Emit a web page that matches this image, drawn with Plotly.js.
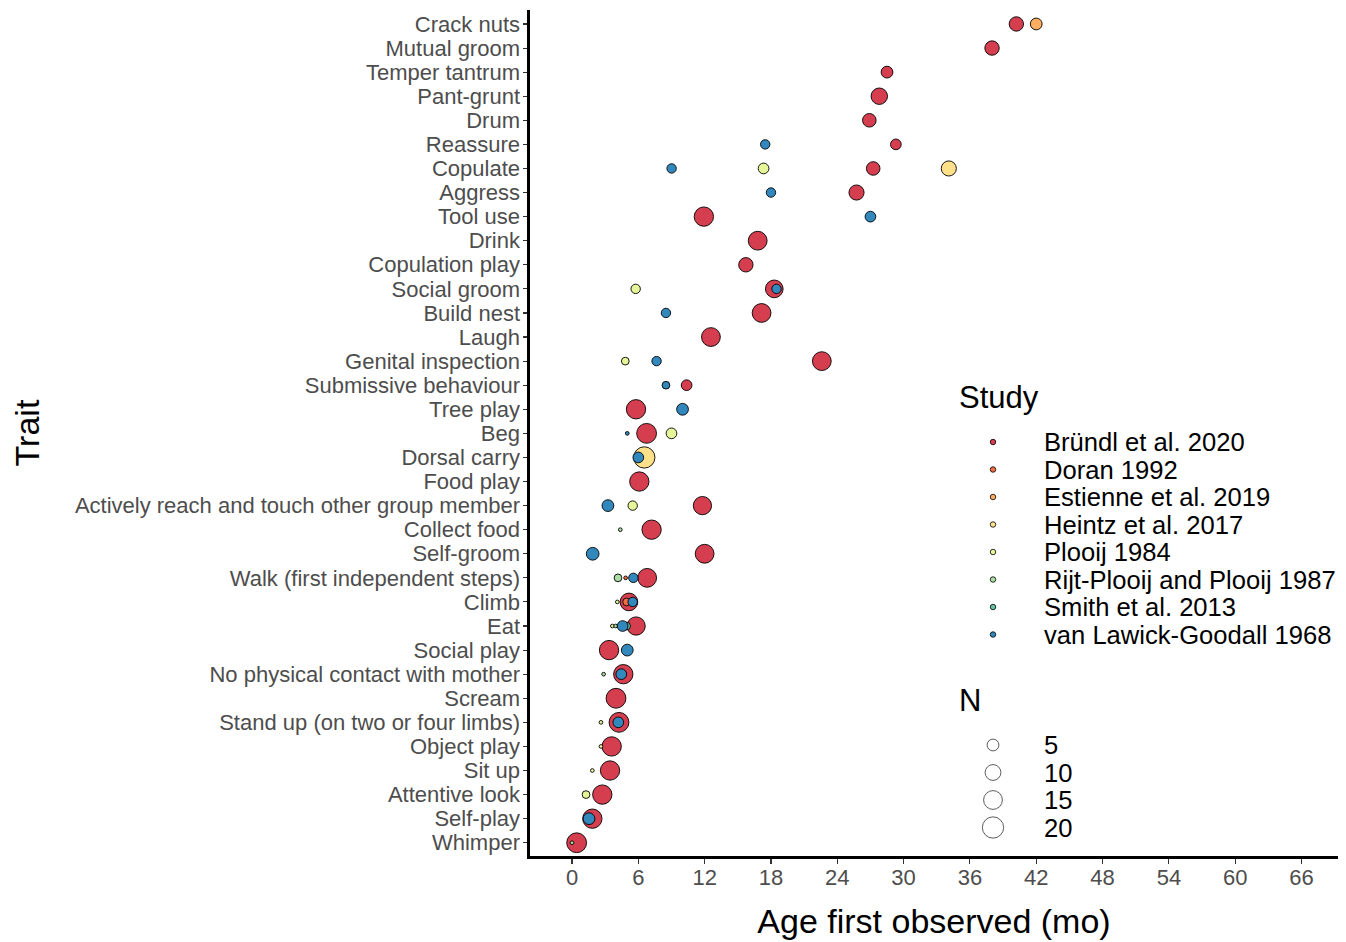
<!DOCTYPE html>
<html>
<head>
<meta charset="utf-8">
<script src="https://cdn.plot.ly/plotly-3.0.1.min.js"></script>
<style>
  html, body { margin: 0; padding: 0; background: #ffffff; }
  #chart { width: 1346px; height: 942px; }
</style>
</head>
<body>
<div id="chart"></div>
<script>
// ---------------- DATA ----------------
// Traits, bottom to top
const traits = [
  "Whimper", "Self-play", "Attentive look", "Sit up", "Object play",
  "Stand up (on two or four limbs)", "Scream", "No physical contact with mother",
  "Social play", "Eat", "Climb", "Walk (first independent steps)", "Self-groom",
  "Collect food", "Actively reach and touch other group member", "Food play",
  "Dorsal carry", "Beg", "Tree play", "Submissive behaviour", "Genital inspection",
  "Laugh", "Build nest", "Social groom", "Copulation play", "Drink", "Tool use",
  "Aggress", "Copulate", "Reassure", "Drum", "Pant-grunt", "Temper tantrum",
  "Mutual groom", "Crack nuts"
];

const studies = [
  "Bründl et al. 2020", "Doran 1992", "Estienne et al. 2019", "Heintz et al. 2017",
  "Plooij 1984", "Rijt-Plooij and Plooij 1987", "Smith et al. 2013", "van Lawick-Goodall 1968"
];

// Bründl et al. 2020
const bruendlTrait = [
  "Crack nuts", "Mutual groom", "Temper tantrum", "Pant-grunt", "Drum", "Reassure",
  "Copulate", "Aggress", "Tool use", "Drink", "Copulation play", "Social groom",
  "Build nest", "Laugh", "Genital inspection", "Submissive behaviour", "Tree play",
  "Beg", "Food play", "Actively reach and touch other group member", "Collect food",
  "Self-groom", "Walk (first independent steps)", "Climb", "Eat", "Social play",
  "No physical contact with mother", "Scream", "Stand up (on two or four limbs)",
  "Object play", "Sit up", "Attentive look", "Self-play", "Whimper"
];
const bruendlAge = [
  40.2, 38.0, 28.5, 27.8, 26.9, 29.3,
  27.25, 25.74, 11.93, 16.8, 15.73, 18.3,
  17.15, 12.57, 22.6, 10.37, 5.79,
  6.75, 6.09, 11.8, 7.2,
  12.0, 6.8, 5.15, 5.8, 3.35,
  4.64, 3.98, 4.25,
  3.59, 3.44, 2.74, 1.84, 0.42
];
const bruendlN = [
  8, 8, 5, 11, 7, 4,
  7, 9, 16, 15, 8, 13,
  15, 15, 15, 4, 16,
  17, 16, 14, 16,
  15, 15, 13, 14, 16,
  16, 17, 17,
  16, 16, 16, 16, 17
];

// Doran 1992
const doranTrait = ["Walk (first independent steps)", "Climb"];
const doranAge = [4.85, 4.94];
const doranN = [1, 2];

// Estienne et al. 2019
const estienneTrait = ["Crack nuts"];
const estienneAge = [42.0];
const estienneN = [5];

// Heintz et al. 2017
const heintzTrait = ["Copulate", "Dorsal carry"];
const heintzAge = [34.09, 6.54];
const heintzN = [9, 20];

// Plooij 1984
const plooijTrait = [
  "Copulate", "Social groom", "Genital inspection", "Beg",
  "Actively reach and touch other group member", "Climb", "Eat",
  "Stand up (on two or four limbs)", "Object play", "Sit up", "Attentive look"
];
const plooijAge = [17.33, 5.76, 4.82, 9.0, 5.49, 4.1, 3.65, 2.62, 2.62, 1.84, 1.27];
const plooijN = [4, 3, 2, 4, 3, 1, 1, 1, 1, 1, 2];

// Rijt-Plooij and Plooij 1987
const rijtTrait = [
  "Walk (first independent steps)", "Eat", "No physical contact with mother",
  "Collect food", "Whimper"
];
const rijtAge = [4.16, 3.95, 2.86, 4.37, 0.0];
const rijtN = [2, 1, 1, 1, 1];

// Smith et al. 2013
const smithTrait = ["Eat"];
const smithAge = [4.94];
const smithN = [2];

// van Lawick-Goodall 1968
const goodallTrait = [
  "Reassure", "Copulate", "Aggress", "Tool use", "Social groom", "Build nest",
  "Genital inspection", "Submissive behaviour", "Tree play", "Beg", "Dorsal carry",
  "Actively reach and touch other group member", "Self-groom",
  "Walk (first independent steps)", "Climb", "Eat", "Social play",
  "No physical contact with mother", "Stand up (on two or four limbs)", "Self-play"
];
const goodallAge = [
  17.48, 9.01, 18.0, 27.0, 18.5, 8.5,
  7.65, 8.5, 10.0, 5.0, 6.0,
  3.25, 1.87,
  5.55, 5.49, 4.58, 5.0,
  4.46, 4.19, 1.54
];
const goodallN = [
  3, 3, 3, 4, 3, 3,
  3, 2, 5, 1, 4,
  5, 6,
  3, 3, 4, 5,
  4, 4, 5
];

// Size legend values
const legendN = [5, 10, 15, 20];
const xTicks = [0, 6, 12, 18, 24, 30, 36, 42, 48, 54, 60, 66];

// ---------------- STYLE ----------------
const palette = ["#D53E4F", "#F46D43", "#FDAE61", "#FEE08B", "#E6F598", "#ABDDA4", "#66C2A5", "#3288BD"];
const FONT = "Liberation Sans, Arial, Helvetica, sans-serif";
function sizeOf(n) { return 3.7 * (1 + 5 * Math.sqrt(Math.max(n - 1, 0) / 21)); }

const seriesList = [
  [bruendlTrait, bruendlAge, bruendlN],
  [doranTrait, doranAge, doranN],
  [estienneTrait, estienneAge, estienneN],
  [heintzTrait, heintzAge, heintzN],
  [plooijTrait, plooijAge, plooijN],
  [rijtTrait, rijtAge, rijtN],
  [smithTrait, smithAge, smithN],
  [goodallTrait, goodallAge, goodallN]
];

const traces = seriesList.map((s, i) => ({
  type: "scatter",
  mode: "markers",
  name: studies[i],
  x: s[1],
  y: s[0],
  showlegend: false,
  marker: {
    color: palette[i],
    size: s[2].map(sizeOf),
    line: { color: "#000000", width: 0.9 },
    opacity: 1
  },
  hoverinfo: "x+y+name"
}));

// ------------- custom legend (pixel-based overlay axes) -------------
const studyKeyX = 993, textX = 1042, titleX = 957;
const studyTitleY = 397, studyY0 = 442, gap = 27.5;
const nTitleY = 700, nY0 = 745;

traces.push({
  type: "scatter", mode: "markers", xaxis: "x2", yaxis: "y2",
  x: studies.map(() => studyKeyX),
  y: studies.map((_, i) => studyY0 + gap * i),
  marker: { color: palette, size: 5.5, line: { color: "#000000", width: 0.8 } },
  showlegend: false, hoverinfo: "skip"
});
traces.push({
  type: "scatter", mode: "markers", xaxis: "x2", yaxis: "y2",
  x: legendN.map(() => studyKeyX),
  y: legendN.map((_, i) => nY0 + gap * i),
  marker: { color: "#ffffff", size: legendN.map(sizeOf), line: { color: "#000000", width: 0.9 } },
  showlegend: false, hoverinfo: "skip"
});

const annotations = [];
studies.forEach((s, i) => annotations.push({
  xref: "x2", yref: "y2", x: textX, y: studyY0 + gap * i, text: s,
  showarrow: false, xanchor: "left", yanchor: "middle",
  font: { family: FONT, size: 25.6, color: "#000000" }
}));
legendN.forEach((n, i) => annotations.push({
  xref: "x2", yref: "y2", x: textX, y: nY0 + gap * i, text: String(n),
  showarrow: false, xanchor: "left", yanchor: "middle",
  font: { family: FONT, size: 25.6, color: "#000000" }
}));
annotations.push({
  xref: "x2", yref: "y2", x: titleX, y: studyTitleY, text: "Study",
  showarrow: false, xanchor: "left", yanchor: "middle",
  font: { family: FONT, size: 31, color: "#000000" }
});
annotations.push({
  xref: "x2", yref: "y2", x: titleX, y: nTitleY, text: "N",
  showarrow: false, xanchor: "left", yanchor: "middle",
  font: { family: FONT, size: 31, color: "#000000" }
});

const layout = {
  width: 1346,
  height: 942,
  margin: { l: 530, r: 8, t: 10, b: 86 },
  paper_bgcolor: "#ffffff",
  plot_bgcolor: "rgba(0,0,0,0)",
  font: { family: FONT, color: "#000000" },
  showlegend: false,
  xaxis: {
    range: [-3.8, 69.3],
    tickmode: "array",
    tickvals: xTicks,
    ticktext: xTicks.map(String),
    ticks: "outside", ticklen: 5, tickwidth: 1.1, tickcolor: "#333333",
    ticklabelstandoff: -5,
    tickfont: { family: FONT, size: 22, color: "#4d4d4d" },
    showline: true, linecolor: "#000000", linewidth: 2.6,
    showgrid: false, zeroline: false, fixedrange: true,
    title: { text: "Age first observed (mo)", font: { family: FONT, size: 34, color: "#000000" }, standoff: 20 },
    automargin: false
  },
  yaxis: {
    type: "category",
    categoryorder: "array",
    categoryarray: traits,
    tickmode: "array",
    tickvals: traits,
    ticktext: traits,
    range: [-0.55, 34.58],
    ticks: "outside", ticklen: 4, tickwidth: 1.1, tickcolor: "#333333",
    ticklabelstandoff: -1,
    tickfont: { family: FONT, size: 22, color: "#4d4d4d" },
    showline: true, linecolor: "#000000", linewidth: 2.6,
    showgrid: false, zeroline: false, fixedrange: true,
    title: { text: "Trait", font: { family: FONT, size: 34, color: "#000000" }, standoff: 25 },
    automargin: false
  },
  xaxis2: { domain: [0, 1], range: [530, 1338], visible: false, fixedrange: true, anchor: "y2" },
  yaxis2: { domain: [0, 1], range: [856, 10], visible: false, fixedrange: true, anchor: "x2" },
  annotations: annotations
};

Plotly.newPlot("chart", traces, layout, { displayModeBar: false, staticPlot: true });
</script>
</body>
</html>
